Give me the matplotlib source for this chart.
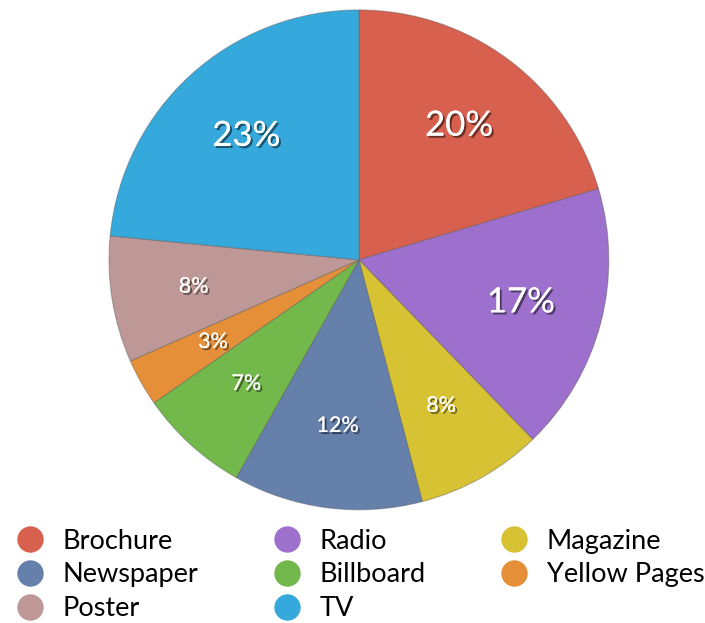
import matplotlib.pyplot as plt
import matplotlib.patheffects as pe
from matplotlib.lines import Line2D

plt.rcParams['font.family'] = ['Lato', 'DejaVu Sans']

# slices, clockwise from 12 o'clock
media = ["Brochure", "Radio", "Magazine", "Newspaper", "Billboard",
         "Yellow Pages", "Poster", "TV"]
shares = [20, 17, 8, 12, 7, 3, 8, 23]
colors = ["#d8604e", "#9c70cc", "#d6c233", "#6680ac", "#72b84a",
          "#e59039", "#bd9896", "#35a9dc"]
big = {"Brochure", "Radio", "TV"}

fig = plt.figure(figsize=(7.05, 6.23), dpi=100)
ax = fig.add_axes([0.1546, 0.1814, 0.709, 0.803])

wedges, texts = ax.pie(shares, colors=colors, startangle=90, counterclock=False,
                       labels=[f"{v}%" for v in shares], labeldistance=0.67,
                       wedgeprops=dict(edgecolor="#55555566", linewidth=0.8))
shadow = [pe.withSimplePatchShadow(offset=(1.5, -1.5), shadow_rgbFace="black", alpha=0.5)]
for name, t in zip(media, texts):
    t.set_color("white")
    t.set_ha("center")
    t.set_va("center")
    t.set_fontsize(25 if name in big else 15.5)
    t.set_path_effects(shadow + [pe.Normal()])
ax.set_xlim(-1, 1)
ax.set_ylim(-1, 1)

# legend laid out row by row in three columns
order = [0, 3, 6, 1, 4, 7, 2, 5]
handles = [Line2D([], [], ls="none", marker="o", markersize=19,
                  markerfacecolor=colors[i], markeredgecolor="none") for i in order]
fig.legend(handles, [media[i] for i in order], ncol=3, frameon=False,
           loc="lower left", bbox_to_anchor=(16 / 705, 2 / 623),
           fontsize=19.5, handlelength=1.0, handletextpad=0.7,
           columnspacing=2.78, labelspacing=0.32, borderpad=0, borderaxespad=0)

fig.savefig("out.png", dpi=100)
